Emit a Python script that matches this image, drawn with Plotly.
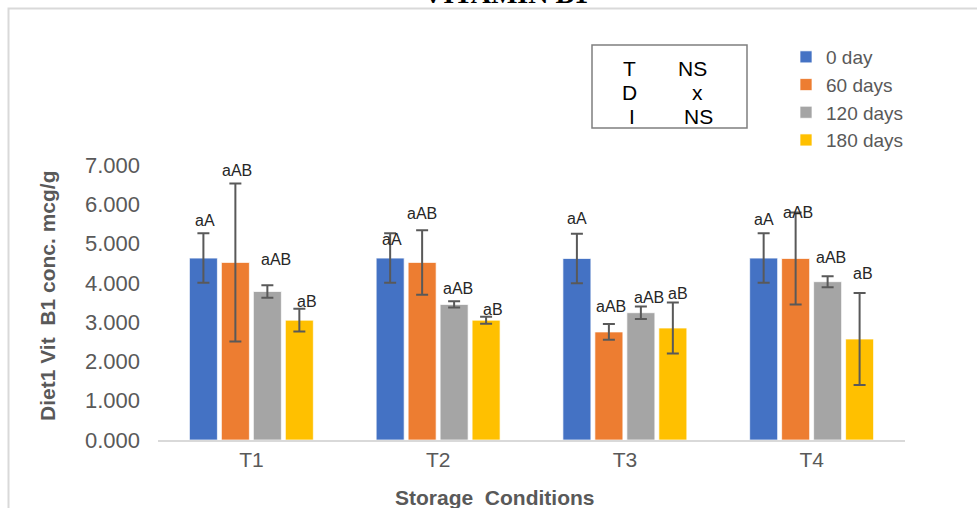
import plotly.graph_objects as go

categories = ["T1", "T2", "T3", "T4"]
series_names = ["0 day", "60 days", "120 days", "180 days"]
colors = ["#4472C4", "#ED7D31", "#A5A5A5", "#FFC000"]

day0 = [4.63, 4.63, 4.62, 4.63]
day0_err = [0.63, 0.63, 0.63, 0.63]
day60 = [4.52, 4.52, 2.75, 4.62]
day60_err = [2.01, 0.82, 0.20, 1.17]
day120 = [3.78, 3.45, 3.24, 4.03]
day120_err = [0.16, 0.08, 0.16, 0.14]
day180 = [3.05, 3.05, 2.85, 2.57]
day180_err = [0.29, 0.09, 0.65, 1.17]

labels_0 = ["aA", "aA", "aA", "aA"]
labels_60 = ["aAB", "aAB", "aAB", "aAB"]
labels_120 = ["aAB", "aAB", "aAB", "aAB"]
labels_180 = ["aB", "aB", "aB", "aB"]

# per-label pixel nudges (above the error cap)
label_yshift = [[13, -6, 15, 14], [13, 17, 18, 0], [26, 13, 9, 19], [7, 7, 9, 20]]
label_xshift = [[2, 2, 0, 0], [2, 0, 2, 2], [9, 4, 8, 3], [8, 7, 5, 3]]

stat_rows = [("T", "NS"), ("D", "x"), ("I", "NS")]

x_title = "Storage  Conditions"
y_title = "Diet1 Vit  B1 conc. mcg/g"
chart_title = "VITAMIN B1"

values = [day0, day60, day120, day180]
errors = [day0_err, day60_err, day120_err, day180_err]
labels = [labels_0, labels_60, labels_120, labels_180]

W, H = 977, 508
L, R, T, B = 158, 72, 165, 68
pw, ph = W - L - R, H - T - B
BARGAP, GROUPGAP = 0.315, 0.125
FONT = "Liberation Sans, Arial, sans-serif"

def px_x(x):
    return (x - L) / pw

def px_y(y):
    return (H - B - y) / ph

xs = list(range(len(categories)))
fig = go.Figure()
for j, name in enumerate(series_names):
    fig.add_trace(go.Bar(
        x=xs, y=values[j], name=name,
        marker=dict(color=colors[j], line=dict(color="rgba(255,255,255,0.7)", width=1)),
        error_y=dict(type="data", array=errors[j], visible=True,
                     color="#595959", thickness=2, width=6),
    ))

annotations = []
slot = (1 - BARGAP) / len(series_names)
for j in range(len(series_names)):
    for i in xs:
        annotations.append(dict(
            x=i + (j - 1.5) * slot, y=values[j][i] + errors[j][i],
            xref="x", yref="y", text=labels[j][i], showarrow=False,
            yanchor="middle", xanchor="center",
            yshift=label_yshift[j][i], xshift=label_xshift[j][i],
            font=dict(family=FONT, size=16, color="#262626"),
        ))

# title (mostly cut off at the top of the page, as in the reference)
annotations.append(dict(
    x=px_x(505), y=px_y(-7), xref="paper", yref="paper", text="<b>%s</b>" % chart_title,
    showarrow=False, xanchor="center", yanchor="middle",
    font=dict(family="Liberation Serif, Times New Roman, serif", size=28, color="#000000"),
))

# axis titles
annotations.append(dict(
    x=px_x(495), y=px_y(497), xref="paper", yref="paper", text="<b>%s</b>" % x_title,
    showarrow=False, xanchor="center", yanchor="middle",
    font=dict(family=FONT, size=21, color="#595959"),
))
annotations.append(dict(
    x=px_x(47), y=px_y(296), xref="paper", yref="paper", text="<b>%s</b>" % y_title,
    showarrow=False, xanchor="center", yanchor="middle", textangle=-90,
    font=dict(family=FONT, size=21, color="#595959"),
))

# stats box text
row_y = [69, 92, 116]
left_x = [629, 629, 632]
right_x = [692, 697, 698]
for k, (a, b) in enumerate(stat_rows):
    annotations.append(dict(x=px_x(left_x[k]), y=px_y(row_y[k]), xref="paper", yref="paper",
                            text=a, showarrow=False, xanchor="center", yanchor="middle",
                            font=dict(family=FONT, size=21, color="#000000")))
    annotations.append(dict(x=px_x(right_x[k]), y=px_y(row_y[k]), xref="paper", yref="paper",
                            text=b, showarrow=False, xanchor="center", yanchor="middle",
                            font=dict(family=FONT, size=21, color="#000000")))

shapes = [
    dict(type="rect", xref="paper", yref="paper",
         x0=px_x(592), x1=px_x(747), y0=px_y(128), y1=px_y(45),
         line=dict(color="#7f7f7f", width=1.5), fillcolor="rgba(0,0,0,0)"),
    dict(type="rect", xref="paper", yref="paper",
         x0=px_x(8.5), x1=px_x(1100), y0=px_y(700), y1=px_y(8.5),
         line=dict(color="#d9d9d9", width=2), fillcolor="rgba(0,0,0,0)", layer="below"),
]

fig.update_layout(
    width=W, height=H,
    margin=dict(l=L, r=R, t=T, b=B, pad=0, autoexpand=False),
    paper_bgcolor="white", plot_bgcolor="white",
    barmode="group", bargap=BARGAP, bargroupgap=GROUPGAP,
    showlegend=True,
    legend=dict(x=px_x(786), y=px_y(38), xref="paper", yref="paper",
                xanchor="left", yanchor="top", bgcolor="rgba(0,0,0,0)",
                font=dict(family=FONT, size=19, color="#595959"),
                tracegroupgap=0, itemwidth=30),
    xaxis=dict(tickmode="array", tickvals=xs, ticktext=categories,
               range=[-0.5, len(categories) - 0.5], automargin=False,
               showline=True, linecolor="#d9d9d9", linewidth=2,
               showgrid=False, zeroline=False, ticks="",
               tickfont=dict(family=FONT, size=21, color="#595959")),
    yaxis=dict(range=[0, 7], tickmode="linear", dtick=1, tickformat=".3f",
               automargin=False,
               showline=False, showgrid=False, zeroline=False, ticks="",
               ticklabelstandoff=17,
               tickfont=dict(family=FONT, size=22, color="#595959")),
    annotations=annotations,
    shapes=shapes,
)

fig.write_html("out.html")
